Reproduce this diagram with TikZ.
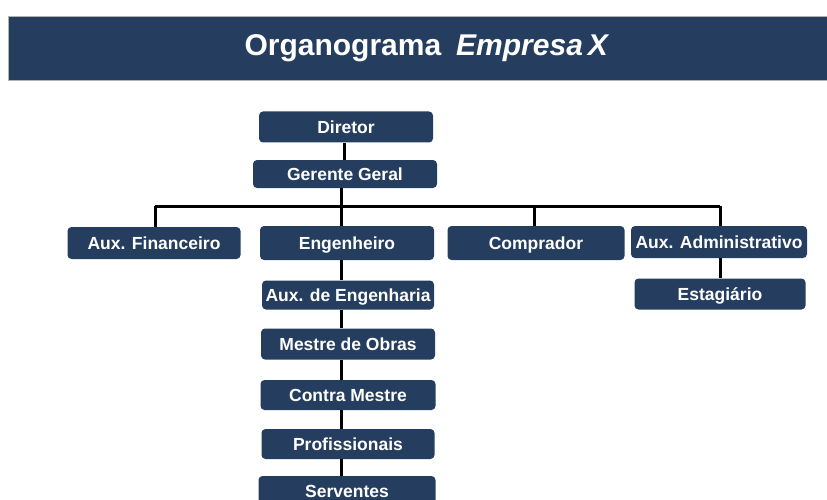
\documentclass[tikz,border=0pt]{standalone}
\usepackage{fontspec}
\setmainfont{Liberation Sans}
\definecolor{navy}{HTML}{253E5F}
\begin{document}
\begin{tikzpicture}[x=1pt,y=-1pt,
  box/.style={draw=none,fill=navy,rounded corners=4pt,text=white,font=\fontsize{17.5}{19}\selectfont\bfseries,inner sep=0pt,text height=12.5pt,text depth=0pt,anchor=center},
  link/.style={line width=3pt,black}]
\clip (0,0) rectangle (827,500);
\fill[white] (0,0) rectangle (827,500);
\draw[fill=navy,draw=gray!60,line width=0.8pt] (8,16) rectangle (830,80);
\node[text=white,font=\fontsize{30}{32}\selectfont\bfseries] (title) at (427,48) {Organograma\hspace{0.5em}\textit{Empresa\,X}};
% nodes
\node[box,minimum width=174pt,minimum height=31pt] (dir) at (346,127) {Diretor};
\node[box,minimum width=184pt,minimum height=28pt] (ger) at (345,174) {Gerente Geral};
\node[box,minimum width=173pt,minimum height=32pt] (fin) at (154,243) {Aux. Financeiro};
\node[box,minimum width=174pt,minimum height=34pt] (eng) at (347,243) {Engenheiro};
\node[box,minimum width=177pt,minimum height=34pt] (comp) at (536,243) {Comprador};
\node[box,minimum width=176pt,minimum height=32pt] (adm) at (719,242) {Aux. Administrativo};
\node[box,minimum width=171pt,minimum height=31pt] (est) at (720,294) {Estagiário};
\node[box,minimum width=172pt,minimum height=29pt] (aeng) at (348,295) {Aux. de Engenharia};
\node[box,minimum width=174pt,minimum height=31pt] (mest) at (348,344) {Mestre de Obras};
\node[box,minimum width=175pt,minimum height=30pt] (contra) at (348,395) {Contra Mestre};
\node[box,minimum width=173pt,minimum height=30pt] (prof) at (348,444) {Profissionais};
\node[box,minimum width=177pt,minimum height=30pt] (serv) at (347,491) {Serventes};
% connectors
\coordinate (bus) at (341,206);
\coordinate (busL) at (155,206);
\coordinate (busR) at (720,206);
\coordinate (busC) at (534,206);
\draw[link] (dir.south -| 344,0) -- (ger.north -| 344,0);
\draw[link] (ger.south -| bus) -- (eng.north -| bus);
\draw[link] (busL) -- (busR);
\draw[link] (busL) -- (fin.north -| busL);
\draw[link] (busC) -- (comp.north -| busC);
\draw[link] (busR) -- (adm.north -| busR);
\draw[link] (adm.south -| busR) -- (est.north -| busR);
\draw[link] (eng.south -| bus) -- (aeng.north -| bus);
\draw[link] (aeng.south -| bus) -- (mest.north -| bus);
\draw[link] (mest.south -| bus) -- (contra.north -| bus);
\draw[link] (contra.south -| bus) -- (prof.north -| bus);
\draw[link] (prof.south -| bus) -- (serv.north -| bus);
\end{tikzpicture}
\end{document}
